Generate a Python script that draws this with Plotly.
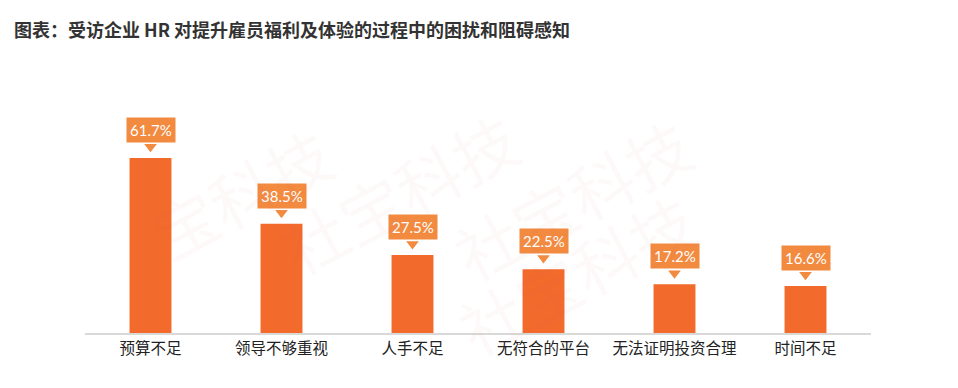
import plotly.graph_objects as go

categories = ["预算不足", "领导不够重视", "人手不足", "无符合的平台", "无法证明投资合理", "时间不足"]
values = [61.7, 38.5, 27.5, 22.5, 17.2, 16.6]
labels = ["61.7%", "38.5%", "27.5%", "22.5%", "17.2%", "16.6%"]

bar_color = "#F26A2C"
box_color = "#F28A40"

fig = go.Figure()
fig.add_trace(go.Bar(x=categories, y=values, marker=dict(color=bar_color, line=dict(width=0)),
                     width=0.32, hoverinfo="skip"))

# pointer triangles (offset above bar top)
fig.add_trace(go.Scatter(x=categories, y=[v + 3.9 for v in values], mode="markers",
                         marker=dict(symbol="triangle-down", size=11, color=box_color, line=dict(width=0)),
                         hoverinfo="skip", cliponaxis=False))

for c, v, t in zip(categories, values, labels):
    fig.add_annotation(x=c, y=v, text=t, showarrow=False, yanchor="bottom", yshift=15,
                       bgcolor=box_color, borderpad=3,
                       font=dict(family="Lato, Open Sans, sans-serif", size=15, color="white"))

# faint watermarks
for (wx, wy, wt) in [(0.06, 0.62, "宝科技"), (0.40, 0.62, "社宝科技"), (0.80, 0.72, "社宝科技"),
                     (0.62, 1.05, "社宝科技")]:
    fig.add_annotation(xref="paper", yref="paper", x=wx, y=wy, text=wt, showarrow=False,
                       textangle=-28, font=dict(family="Noto Sans CJK SC", size=64, color="rgba(240,110,90,0.04)"))

fig.update_layout(
    width=958, height=388,
    margin=dict(l=85, r=87, t=106, b=55),
    paper_bgcolor="white", plot_bgcolor="white",
    showlegend=False,
    title=dict(text="<b>图表：受访企业 HR 对提升雇员福利及体验的过程中的困扰和阻碍感知</b>",
               x=0.0146, xanchor="left", y=0.922, yanchor="middle",
               font=dict(family="Noto Sans CJK SC", size=18, color="#333333")),
    xaxis=dict(showline=True, linecolor="#D9D9D9", linewidth=2, ticks="", showgrid=False,
               tickfont=dict(family="Noto Sans CJK SC", size=15.5, color="#222222"),
               range=[-0.5, 5.5]),
    yaxis=dict(visible=False, range=[0, 80], showgrid=False, zeroline=False),
)

fig.write_html("out.html", config={"displayModeBar": False},
               post_script="document.body.style.margin='0';document.body.style.padding='0';")
